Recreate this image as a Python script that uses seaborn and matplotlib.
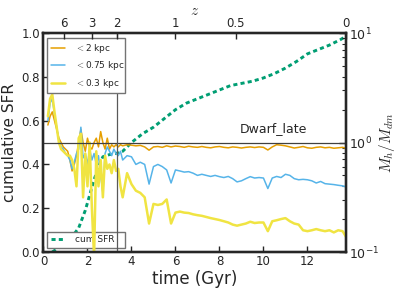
import numpy as np
import matplotlib
matplotlib.use("Agg")
import matplotlib.pyplot as plt
import seaborn as sns

# time grid (Gyr) shared by the three mass-ratio curves
time = [0.2, 0.3, 0.4, 0.5, 0.6, 0.7, 0.8, 0.9, 1.0, 1.1,
        1.2, 1.3, 1.4, 1.5, 1.6, 1.7, 1.8, 1.9, 2.0, 2.1,
        2.2, 2.3, 2.4, 2.5, 2.6, 2.7, 2.8, 2.9, 3.0, 3.1,
        3.2, 3.3, 3.4, 3.5,
        3.6, 3.8, 4.0, 4.2, 4.4, 4.6, 4.8, 5.0, 5.2, 5.4,
        5.6, 5.8, 6.0, 6.2, 6.4, 6.6, 6.8, 7.0, 7.2, 7.4,
        7.6, 7.8, 8.0, 8.2, 8.4, 8.6, 8.8, 9.0, 9.2, 9.4,
        9.6, 9.8, 10.0, 10.2, 10.4, 10.6, 10.8, 11.0, 11.2, 11.4,
        11.6, 11.8, 12.0, 12.2, 12.4, 12.6, 12.8, 13.0, 13.2, 13.4,
        13.6, 13.75]

ratio_2kpc = [1.445, 1.738, 1.905, 1.585, 1.318, 1.096, 1.0, 0.912, 0.871, 0.832,
              0.692, 0.550, 0.631, 0.759, 1.0, 1.318, 1.0, 0.832, 1.096, 0.912,
              0.871, 1.0, 1.096, 0.912, 1.259, 1.0, 0.871, 1.096, 0.871, 0.955,
              0.912, 0.955, 0.912, 0.955,
              0.933, 0.955, 0.946, 0.933, 0.942, 0.912, 0.851, 0.912, 0.920, 0.904,
              0.933, 0.912, 0.929, 0.920, 0.904, 0.925, 0.912, 0.904, 0.920, 0.904,
              0.895, 0.912, 0.920, 0.904, 0.895, 0.912, 0.904, 0.891, 0.904, 0.912,
              0.900, 0.912, 0.904, 0.855, 0.912, 0.955, 0.946, 0.933, 0.912, 0.891,
              0.904, 0.920, 0.895, 0.887, 0.904, 0.912, 0.895, 0.904, 0.887, 0.895,
              0.904, 0.887]

ratio_075kpc = [1.585, 2.291, 2.512, 1.820, 1.380, 1.047, 0.912, 0.871, 0.794, 0.759,
                0.692, 0.575, 0.661, 0.794, 0.871, 1.380, 0.724, 0.794, 0.631, 0.871,
                0.692, 0.794, 0.631, 0.759, 0.501, 0.347, 0.794, 0.912, 0.832, 0.759,
                0.871, 0.794, 0.759, 0.832,
                0.692, 0.759, 0.741, 0.631, 0.661, 0.631, 0.417, 0.603, 0.631, 0.603,
                0.562, 0.427, 0.562, 0.550, 0.537, 0.542, 0.525, 0.501, 0.513, 0.501,
                0.490, 0.501, 0.488, 0.479, 0.490, 0.468, 0.437, 0.447, 0.468, 0.488,
                0.474, 0.479, 0.474, 0.380, 0.474, 0.490, 0.479, 0.513, 0.501, 0.468,
                0.457, 0.461, 0.457, 0.447, 0.427, 0.441, 0.421, 0.417, 0.413, 0.407,
                0.402, 0.394]

ratio_03kpc = [1.738, 2.512, 2.754, 1.905, 1.380, 1.0, 0.871, 0.832, 0.794, 0.759,
               0.759, 0.692, 0.575, 0.398, 1.096, 1.202, 0.316, 0.794, 0.398, 1.0,
               0.251, 0.09, 0.832, 0.398, 0.692, 0.316, 0.759, 0.575, 0.631, 0.525,
               0.692, 0.550, 0.575, 0.398,
               0.316, 0.525, 0.417, 0.363, 0.347, 0.316, 0.182, 0.275, 0.269, 0.275,
               0.302, 0.182, 0.229, 0.234, 0.229, 0.227, 0.221, 0.217, 0.214, 0.209,
               0.204, 0.200, 0.196, 0.191, 0.186, 0.178, 0.174, 0.178, 0.182, 0.189,
               0.184, 0.186, 0.186, 0.155, 0.191, 0.195, 0.200, 0.204, 0.191, 0.182,
               0.178, 0.158, 0.155, 0.158, 0.162, 0.158, 0.155, 0.158, 0.151, 0.158,
               0.155, 0.138]

# cumulative star formation (left axis)
time_sfr = [0.4, 0.7, 1.0, 1.3, 1.6, 1.9, 2.1, 2.3, 2.5, 2.7, 3.0, 3.3, 3.6,
            4.0, 4.5, 5.0, 5.5, 6.0, 6.5, 7.0, 7.5, 8.0, 8.5, 9.0, 9.5,
            10.0, 10.5, 11.0, 11.5, 12.0, 12.5, 13.0, 13.5, 13.75]
cum_sfr = [0.0, 0.02, 0.04, 0.07, 0.11, 0.19, 0.26, 0.33, 0.39, 0.435, 0.445, 0.45, 0.46,
           0.50, 0.54, 0.57, 0.61, 0.65, 0.68, 0.70, 0.72, 0.74, 0.76, 0.77, 0.78,
           0.795, 0.815, 0.84, 0.87, 0.905, 0.925, 0.945, 0.97, 0.985]

# redshift ticks on the top axis and their cosmic time
z_labels = ["6", "3", "2", "1", "0.5", "0"]
z_times = [0.93, 2.2, 3.35, 6.0, 8.75, 13.75]

c_orange = "#E69F00"
c_blue = "#56B4E9"
c_yellow = "#F0E442"
c_green = "#009E73"

sns.set_style("ticks", {"xtick.direction": "in", "ytick.direction": "in"})
plt.rcParams["mathtext.fontset"] = "cm"
plt.rcParams["font.family"] = ["DejaVu Sans"]

fig = plt.figure(figsize=(3.99, 2.90), dpi=100)
ax = fig.add_axes([0.109, 0.131, 0.758, 0.755])
ax2 = ax.twinx()
ax3 = ax.twiny()

# left axis: cumulative SFR
sns.lineplot(x=time_sfr, y=cum_sfr, ax=ax, color=c_green, lw=2.1,
             linestyle=(0, (1.4, 1.1)), label="cum SFR")
ax.set_xlim(0, 13.75)
ax.set_ylim(0, 1)
ax.set_xticks([0, 2, 4, 6, 8, 10, 12])
ax.set_yticks([0.0, 0.2, 0.4, 0.6, 0.8, 1.0])
ax.set_yticklabels(["0.0", "0.2", "0.4", "0.6", "0.8", "1.0"])
ax.set_xlabel("time (Gyr)", fontsize=12, labelpad=1)
ax.set_ylabel("cumulative SFR", fontsize=11, labelpad=3)
ax.tick_params(labelsize=8.5, length=4, width=1, pad=2.5)
ax.text(8.93, 0.566, "Dwarf_late", fontsize=9, va="center")
ax.legend(loc="lower left", bbox_to_anchor=(0.013, 0.018, 0.257, 0.082),
          mode="expand", borderaxespad=0, fontsize=6.5, fancybox=False,
          edgecolor="0.45", framealpha=1, handlelength=1.6, handletextpad=1.1)

# right axis: enclosed halo mass fraction
sns.lineplot(x=time, y=ratio_2kpc, ax=ax2, color=c_orange, lw=1.1, label="$<$2 kpc")
sns.lineplot(x=time, y=ratio_075kpc, ax=ax2, color=c_blue, lw=1.1, label="$<$0.75 kpc")
sns.lineplot(x=time, y=ratio_03kpc, ax=ax2, color=c_yellow, lw=1.8, label="$<$0.3 kpc")
ax2.axhline(1.0, color="0.25", lw=0.9)
ax2.axvline(3.35, color="0.35", lw=0.9)
ax2.set_yscale("log")
ax2.set_ylim(0.1, 10)
ax2.set_xlim(0, 13.75)
ax2.set_ylabel("$M_h/M_{dm}$", fontsize=11, labelpad=-1)
ax2.tick_params(axis="y", which="major", labelsize=9, length=5, width=1, pad=2)
ax2.tick_params(axis="y", which="minor", length=3, width=0.8)
ax2.legend(loc="upper left", bbox_to_anchor=(0.013, 0.772, 0.257, 0.205),
           mode="expand", borderaxespad=0, fontsize=6.5, fancybox=False,
           edgecolor="0.45", framealpha=1, handlelength=1.6, handletextpad=1.1)

# top axis: redshift
ax3.set_xlim(0, 13.75)
ax3.set_xticks(z_times)
ax3.set_xticklabels(z_labels)
ax3.set_xlabel("$z$", fontsize=11, labelpad=2)
ax3.tick_params(labelsize=8.5, length=4, width=1, pad=2)

for a in (ax, ax2, ax3):
    for s in a.spines.values():
        s.set_linewidth(1.6)
        s.set_visible(True)

fig.savefig("out.png", dpi=100)
